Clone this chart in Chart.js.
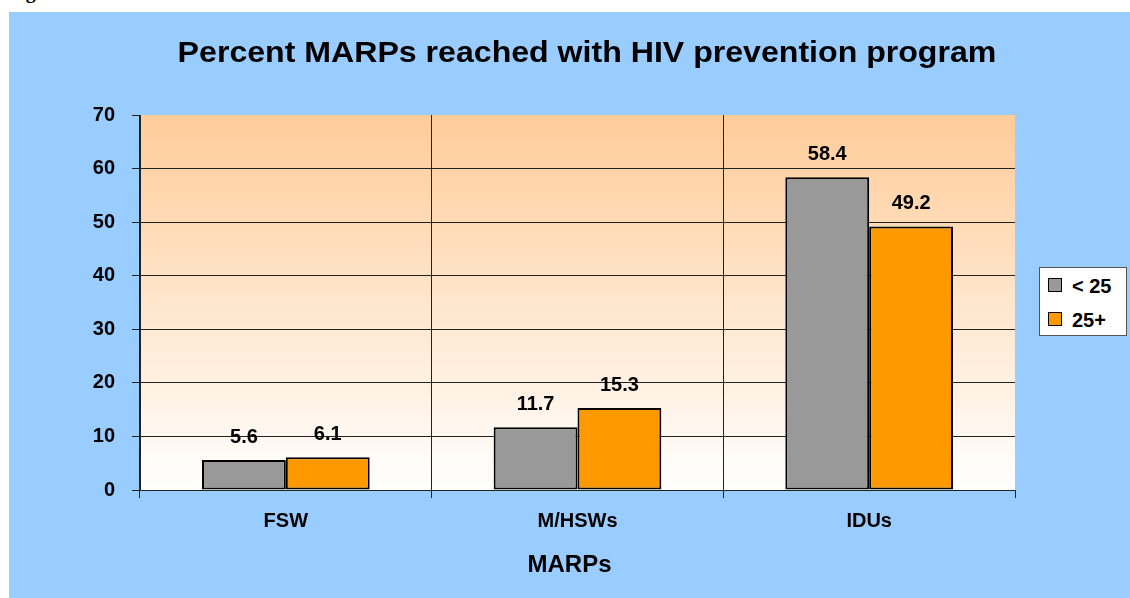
<!DOCTYPE html>
<html>
<head>
<meta charset="utf-8">
<script src="https://cdn.jsdelivr.net/npm/chart.js@4"></script>
<style>
  body { margin: 0; width: 1130px; height: 598px; background: #fff; overflow: hidden; position: relative; font-family: "Liberation Sans", Arial, sans-serif; }
  #fig { position: absolute; left: 8px; top: -20px; font: bold 20px "Liberation Serif", "Times New Roman", serif; }
  #panel { position: absolute; left: 9px; top: 12px; width: 1121px; height: 586px; background: #99CCFF; }
  #title { position: absolute; left: 0; top: 36px; width: 1174px; text-align: center; font-weight: bold; font-size: 30px; line-height: 32px; transform: scaleX(1.07); transform-origin: 587px 0; }
  #legend { position: absolute; left: 1039px; top: 267px; width: 88px; height: 69px; background: #fff; border: 1px solid #555; box-sizing: border-box; }
  .item { position: absolute; left: 8px; font-weight: bold; font-size: 20px; line-height: 22px; white-space: nowrap; }
  .item span { display: inline-block; width: 12px; height: 12px; border: 1px solid #000; margin-right: 10px; vertical-align: 1px; }
</style>
</head>
<body>
<div id="fig">Figure</div>
<div id="panel"><canvas id="chart" width="1121" height="586"></canvas></div>
<div id="title">Percent MARPs reached with HIV prevention program</div>
<div id="legend"></div>
<script>
const categories = ['FSW', 'M/HSWs', 'IDUs'];
const seriesNames = ['< 25', '25+'];
const under25 = [5.6, 11.7, 58.4];
const over25 = [6.1, 15.3, 49.2];
const seriesColors = ['#999999', '#FF9900'];
const yTicks = [0, 10, 20, 30, 40, 50, 60, 70];
const xTitle = 'MARPs';

// legend
const legend = document.getElementById('legend');
seriesNames.forEach((name, i) => {
  const div = document.createElement('div');
  div.className = 'item';
  div.style.top = (7 + i * 34) + 'px';
  div.innerHTML = `<span style="background:${seriesColors[i]}"></span>${name}`;
  legend.appendChild(div);
});

const plotBackground = {
  id: 'plotBackground',
  beforeDraw(chart) {
    const { ctx, chartArea: a } = chart;
    const g = ctx.createLinearGradient(0, a.top, 0, a.bottom);
    g.addColorStop(0, '#FFCC99');
    g.addColorStop(1, '#FFFFFF');
    ctx.save();
    ctx.fillStyle = g;
    ctx.fillRect(a.left, a.top, a.right - a.left, a.bottom - a.top);
    ctx.restore();
  }
};

const valueLabels = {
  id: 'valueLabels',
  afterDatasetsDraw(chart) {
    const ctx = chart.ctx;
    ctx.save();
    ctx.font = 'bold 20px "Liberation Sans", Arial, sans-serif';
    ctx.fillStyle = '#000';
    ctx.textAlign = 'center';
    ctx.textBaseline = 'middle';
    chart.data.datasets.forEach((ds, i) => {
      chart.getDatasetMeta(i).data.forEach((bar, j) => {
        ctx.fillText(ds.data[j].toFixed(1), bar.x, bar.y - 23);
      });
    });
    ctx.restore();
  }
};

// axis title sits a little left of the plot centre in the original
const axisTitle = {
  id: 'axisTitle',
  afterDraw(chart) {
    const { ctx, chartArea: a } = chart;
    ctx.save();
    ctx.font = 'bold 24px "Liberation Sans", Arial, sans-serif';
    ctx.fillStyle = '#000';
    ctx.textAlign = 'center';
    ctx.textBaseline = 'middle';
    ctx.fillText(xTitle, (a.left + a.right) / 2 - 8, a.bottom + 75);
    ctx.restore();
  }
};

const tickFont = { family: '"Liberation Sans", Arial, sans-serif', size: 20, weight: 'bold' };

new Chart(document.getElementById('chart'), {
  type: 'bar',
  data: {
    labels: categories,
    datasets: [
      { label: seriesNames[0], data: under25, backgroundColor: seriesColors[0] },
      { label: seriesNames[1], data: over25, backgroundColor: seriesColors[1] }
    ]
  },
  options: {
    responsive: false,
    devicePixelRatio: 1,
    animation: false,
    layout: { padding: { top: 103, right: 115, left: 0, bottom: 0 } },
    datasets: {
      bar: { categoryPercentage: 0.575, barPercentage: 1, borderWidth: 2, borderColor: '#000', borderSkipped: false }
    },
    plugins: { legend: { display: false }, title: { display: false }, tooltip: { enabled: false } },
    scales: {
      x: {
        afterFit: s => { s.height = 108; },
        grid: {
          offset: true,
          color: c => c.type === 'tick' ? '#222' : 'rgba(0,0,0,0)',
          tickColor: '#222',
          tickLength: 8,
          lineWidth: 1
        },
        border: { color: '#222', width: 1 },
        ticks: { font: tickFont, color: '#000', padding: 11, maxRotation: 0 }
      },
      y: {
        min: 0,
        max: 70,
        afterFit: s => { s.width = 131; },
        afterBuildTicks: s => { s.ticks = yTicks.map(v => ({ value: v })); },
        grid: {
          color: c => c.tick && c.tick.value === 70 ? 'rgba(0,0,0,0)' : '#222',
          tickColor: '#222',
          tickLength: 8,
          lineWidth: 1
        },
        border: { color: '#222', width: 1 },
        ticks: { font: tickFont, color: '#000', padding: 17 }
      }
    }
  },
  plugins: [plotBackground, valueLabels, axisTitle]
});
</script>
</body>
</html>
